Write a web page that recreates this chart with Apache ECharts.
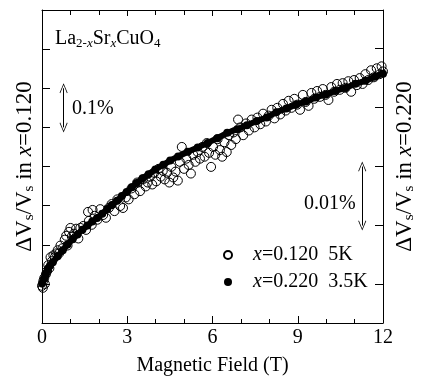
<!DOCTYPE html>
<html>
<head>
<meta charset="utf-8">
<script src="https://cdn.jsdelivr.net/npm/echarts@6/dist/echarts.min.js"></script>
<style>
  html, body { margin: 0; padding: 0; background: #fff; }
  #chart { width: 425px; height: 381px; }
</style>
</head>
<body>
<div id="chart"></div>
<script>
// x = 0.120, 5 K (open circles, left axis, %)
const fieldOpen = [
  0.00, 0.03, 0.05, 0.08, 0.10, 0.14, 0.18, 0.22, 0.26, 0.30, 0.35, 0.40, 0.45, 0.50, 0.55, 0.60,
  0.65, 0.72, 0.80, 0.85, 0.90, 0.95, 1.00, 1.05, 1.12, 1.20, 1.28, 1.35, 1.45, 1.55, 1.62, 1.65,
  1.75, 1.78, 1.85, 1.95, 2.05, 2.15, 2.25, 2.35, 2.45, 2.55, 2.65, 2.75, 2.85, 2.95, 3.05, 3.15,
  3.25, 3.35, 3.45, 3.55, 3.65, 3.72, 3.80, 3.88, 3.95, 4.02, 4.10, 4.18, 4.25, 4.32, 4.40, 4.48,
  4.55, 4.62, 4.70, 4.78, 4.85, 4.92, 5.00, 5.08, 5.16, 5.24, 5.32, 5.40, 5.48, 5.56, 5.64, 5.72,
  5.80, 5.88, 5.95, 6.02, 6.10, 6.18, 6.26, 6.34, 6.42, 6.50, 6.58, 6.66, 6.74, 6.82, 6.90, 6.98,
  7.08, 7.18, 7.28, 7.38, 7.48, 7.58, 7.68, 7.78, 7.88, 7.98, 8.08, 8.18, 8.28, 8.38, 8.48, 8.58,
  8.68, 8.78, 8.88, 8.98, 9.08, 9.18, 9.28, 9.38, 9.48, 9.58, 9.68, 9.78, 9.88, 9.98, 10.08, 10.18,
  10.28, 10.38, 10.48, 10.58, 10.68, 10.78, 10.88, 10.98, 11.08, 11.18, 11.28, 11.38, 11.48, 11.58,
  11.68, 11.78, 11.88, 11.95, 12.00
];
const dvOpen = [
  -0.005, -0.010, 0.008, 0.015, 0.000, 0.025, 0.033, 0.048, 0.040, 0.068, 0.058, 0.073, 0.068, 0.078, 0.086, 0.078,
  0.098, 0.091, 0.113, 0.123, 0.098, 0.133, 0.143, 0.121, 0.128, 0.141, 0.116, 0.143, 0.148, 0.138, 0.184, 0.161,
  0.151, 0.189, 0.174, 0.164, 0.191, 0.176, 0.169, 0.194, 0.204, 0.186, 0.216, 0.199, 0.194, 0.221, 0.216, 0.244,
  0.229, 0.259, 0.237, 0.267, 0.249, 0.259, 0.274, 0.254, 0.284, 0.262, 0.294, 0.274, 0.289, 0.267, 0.284, 0.259,
  0.299, 0.272, 0.287, 0.264, 0.312, 0.350, 0.294, 0.320, 0.304, 0.282, 0.330, 0.312, 0.337, 0.320, 0.350, 0.325,
  0.360, 0.335, 0.299, 0.350, 0.330, 0.370, 0.342, 0.325, 0.362, 0.337, 0.380, 0.355, 0.387, 0.370, 0.420, 0.400,
  0.380, 0.410, 0.392, 0.420, 0.400, 0.425, 0.408, 0.435, 0.415, 0.430, 0.445, 0.423, 0.450, 0.433, 0.460, 0.443,
  0.468, 0.450, 0.473, 0.458, 0.445, 0.483, 0.465, 0.455, 0.488, 0.473, 0.493, 0.478, 0.498, 0.483, 0.470, 0.503,
  0.491, 0.511, 0.496, 0.513, 0.501, 0.518, 0.491, 0.521, 0.508, 0.526, 0.511, 0.536, 0.521, 0.546,
  0.528, 0.551, 0.536, 0.556, 0.543
];

// x = 0.220, 3.5 K (filled dots, right axis, %)
const fieldFilled = [
  0.00, 0.07, 0.14, 0.21, 0.28, 0.38, 0.55, 0.73, 0.90, 1.08, 1.25, 1.42, 1.60, 1.77, 1.94, 2.12,
  2.29, 2.46, 2.64, 2.81, 2.98, 3.16, 3.33, 3.54, 3.75, 3.99, 4.27, 4.51, 4.79, 5.13, 5.48, 5.83,
  6.17, 6.52, 6.87, 7.21, 7.56, 7.91, 8.25, 8.60, 8.95, 9.29, 9.64, 9.99, 10.33, 10.68, 11.03, 11.38,
  11.72, 12.00
];
const dvFilled = [
  0.0002, 0.0010, 0.0018, 0.0027, 0.0032, 0.0038, 0.0048, 0.0058, 0.0068, 0.0077, 0.0085, 0.0093, 0.0100, 0.0107, 0.0113, 0.0120,
  0.0128, 0.0135, 0.0142, 0.0150, 0.0157, 0.0165, 0.0172, 0.0180, 0.0187, 0.0195, 0.0203, 0.0210, 0.0217, 0.0225, 0.0232, 0.0240,
  0.0248, 0.0257, 0.0263, 0.0270, 0.0277, 0.0283, 0.0292, 0.0298, 0.0305, 0.0310, 0.0317, 0.0322, 0.0328, 0.0333, 0.0340, 0.0345,
  0.0352, 0.0357
];

// scale arrows: [field, from, to]
const leftScaleBar = [0.76, 0.4, 0.5];
const rightScaleBar = [11.27, 0.01, 0.02];
const rightTicks = [0, 0.01, 0.02, 0.03, 0.04];

const seriesNames = ['x=0.120  5K', 'x=0.220  3.5K'];

const FONT = 'Liberation Serif';
const chevron = 'path://M0,0 L6,10 L5,10.6 L0,1.8 L-5,10.6 L-6,10 Z';

const subRich = {
  n: { fontFamily: FONT, fontSize: 23, lineHeight: 24, color: '#000' },
  s: { fontFamily: FONT, fontSize: 15, lineHeight: 6, verticalAlign: 'bottom', color: '#000' },
  i: { fontFamily: FONT, fontSize: 23, lineHeight: 24, fontStyle: 'italic', color: '#000' }
};

const chart = echarts.init(document.getElementById('chart'));

const scaleBar = (bar) => ({
  silent: true,
  symbol: [chevron, chevron],
  symbolSize: [8, 10],
  label: { show: false },
  lineStyle: { color: '#000', width: 1, type: 'solid' },
  emphasis: { disabled: true },
  data: [[{ coord: [bar[0], bar[1]] }, { coord: [bar[0], bar[2]] }]]
});

const frameLine = { onZero: false, lineStyle: { color: '#000', width: 1 } };

chart.setOption({
  animation: false,
  backgroundColor: '#fff',
  title: {
    text: '{n|La}{s|2-}{si|x}{n|Sr}{si|x}{n|CuO}{s|4}',
    left: 50,
    top: 23,
    textStyle: {
      fontWeight: 'normal',
      rich: {
        n: { fontFamily: FONT, fontSize: 20, fontWeight: 'normal', lineHeight: 22, color: '#000' },
        s: { fontFamily: FONT, fontSize: 13, fontWeight: 'normal', lineHeight: 4, verticalAlign: 'bottom', color: '#000' },
        si: { fontFamily: FONT, fontSize: 13, fontWeight: 'normal', lineHeight: 4, verticalAlign: 'bottom', fontStyle: 'italic', color: '#000' }
      }
    }
  },
  grid: { left: 42, right: 37, top: 10, bottom: 53 },
  legend: {
    orient: 'vertical',
    left: 218,
    top: 240,
    itemWidth: 8,
    itemHeight: 8,
    itemGap: 7,
    selectedMode: false,
    data: [{ name: seriesNames[0], icon: 'circle' }, { name: seriesNames[1], icon: 'circle' }],
    formatter: (name) => '{i|x}{t|' + name.slice(1) + '}',
    textStyle: {
      lineHeight: 20,
      rich: {
        i: { fontFamily: FONT, fontSize: 20, fontStyle: 'italic', color: '#000', padding: [0, 0, 0, 16] },
        t: { fontFamily: FONT, fontSize: 20, color: '#000' }
      }
    }
  },
  xAxis: [
    {
      type: 'value',
      position: 'bottom',
      min: 0,
      max: 12,
      interval: 3,
      name: 'Magnetic Field (T)',
      nameLocation: 'middle',
      nameGap: 33,
      nameTextStyle: { fontFamily: FONT, fontSize: 20, color: '#000' },
      axisLine: frameLine,
      axisTick: { inside: true, length: 7, lineStyle: { color: '#000' } },
      minorTick: { show: true, splitNumber: 3, length: 4, lineStyle: { color: '#000' } },
      axisLabel: { fontFamily: FONT, fontSize: 20, color: '#000', margin: 5 },
      splitLine: { show: false }
    },
    {
      type: 'value',
      position: 'top',
      min: 0,
      max: 12,
      interval: 3,
      axisLine: frameLine,
      axisTick: { inside: true, length: 6, lineStyle: { color: '#000' } },
      minorTick: { show: true, splitNumber: 3, length: 5, lineStyle: { color: '#000' } },
      axisLabel: { show: false },
      splitLine: { show: false }
    }
  ],
  yAxis: [
    {
      type: 'value',
      position: 'left',
      min: -0.1,
      max: 0.7,
      interval: 0.1,
      name: '{n|ΔV}{s|s}{n|/V}{s|s}{n| in }{i|x}{n|=0.120}',
      nameLocation: 'middle',
      nameRotate: 90,
      nameGap: 5,
      nameTextStyle: { rich: subRich },
      axisLine: Object.assign({ show: true }, frameLine),
      axisTick: { show: true, inside: true, length: 8, lineStyle: { color: '#000' } },
      axisLabel: { show: false },
      splitLine: { show: false }
    },
    {
      type: 'value',
      position: 'right',
      min: -0.0065,
      max: 0.0465,
      name: '{n|ΔV}{s|s}{n|/V}{s|s}{n| in }{i|x}{n|=0.220}',
      nameLocation: 'middle',
      nameRotate: 90,
      nameGap: 10,
      nameTextStyle: { rich: subRich },
      axisLine: Object.assign({ show: true }, frameLine),
      axisTick: { show: true, inside: true, length: 8, customValues: rightTicks, lineStyle: { color: '#000' } },
      axisLabel: { show: false },
      splitLine: { show: false }
    }
  ],
  series: [
    {
      name: seriesNames[0],
      type: 'scatter',
      xAxisIndex: 0,
      yAxisIndex: 0,
      symbol: 'circle',
      symbolSize: 9,
      itemStyle: { color: 'rgba(255,255,255,0)', borderColor: '#000', borderWidth: 1, opacity: 1 },
      data: fieldOpen.map((h, i) => [h, dvOpen[i]]),
      markLine: scaleBar(leftScaleBar),
      z: 2
    },
    {
      name: seriesNames[1],
      type: 'line',
      xAxisIndex: 0,
      yAxisIndex: 1,
      symbol: 'circle',
      symbolSize: 8,
      showAllSymbol: true,
      itemStyle: { color: '#000' },
      lineStyle: { color: '#000', width: 6 },
      data: fieldFilled.map((h, i) => [h, dvFilled[i]]),
      markLine: scaleBar(rightScaleBar),
      z: 3
    }
  ],
  graphic: [
    { type: 'text', left: 72, top: 99, style: { text: '0.1%', font: '20px "Liberation Serif"', fill: '#000' } },
    { type: 'text', left: 304, top: 194, style: { text: '0.01%', font: '20px "Liberation Serif"', fill: '#000' } }
  ]
});
</script>
</body>
</html>
